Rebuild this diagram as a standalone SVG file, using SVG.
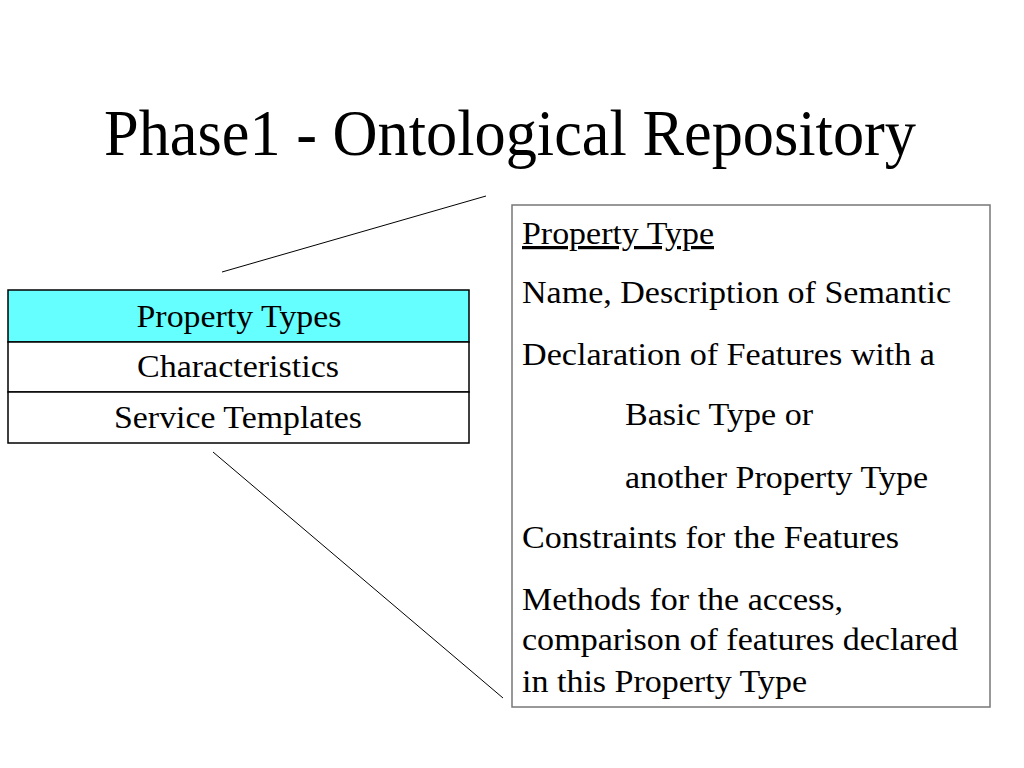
<svg xmlns="http://www.w3.org/2000/svg" width="1024" height="768" viewBox="0 0 1024 768">
<style>
text{font-family:"Liberation Serif","Times New Roman",serif;fill:#000}
.t{font-size:32px}
.c{text-anchor:middle}
.cell{stroke:#000;stroke-width:1.5}
.conn{stroke:#000;stroke-width:1;fill:none}
</style>
<rect width="1024" height="768" fill="#fff"/>
<text x="510" y="155" font-size="65" text-anchor="middle" textLength="812" lengthAdjust="spacingAndGlyphs">Phase1 - Ontological Repository</text>
<g id="connectors">
<line class="conn" x1="222" y1="272" x2="486" y2="196"/>
<line class="conn" x1="213" y1="452" x2="503" y2="698"/>
</g>
<g id="table">
<g id="row-property-types">
<rect class="cell" x="8" y="290" width="461" height="52" fill="#66FFFF"/>
<text class="t c" x="239" y="327" textLength="205" lengthAdjust="spacingAndGlyphs">Property Types</text>
</g>
<g id="row-characteristics">
<rect class="cell" x="8" y="342" width="461" height="50" fill="#fff"/>
<text class="t c" x="238" y="377" textLength="202" lengthAdjust="spacingAndGlyphs">Characteristics</text>
</g>
<g id="row-service-templates">
<rect class="cell" x="8" y="392" width="461" height="51" fill="#fff"/>
<text class="t c" x="238" y="428" textLength="248" lengthAdjust="spacingAndGlyphs">Service Templates</text>
</g>
</g>
<g id="detail-box">
<rect x="512" y="205" width="478" height="502" fill="#fff" stroke="#777" stroke-width="1.5"/>
<text class="t" x="522" y="244" textLength="192" lengthAdjust="spacingAndGlyphs" text-decoration="underline">Property Type</text>
<text class="t" x="522" y="303" textLength="429" lengthAdjust="spacingAndGlyphs">Name, Description of Semantic</text>
<text class="t" x="522" y="365" textLength="413" lengthAdjust="spacingAndGlyphs">Declaration of Features with a</text>
<text class="t" x="625" y="425" textLength="188" lengthAdjust="spacingAndGlyphs">Basic Type or</text>
<text class="t" x="625" y="488" textLength="303" lengthAdjust="spacingAndGlyphs">another Property Type</text>
<text class="t" x="522" y="548" textLength="377" lengthAdjust="spacingAndGlyphs">Constraints for the Features</text>
<text class="t" x="522" y="610" textLength="321" lengthAdjust="spacingAndGlyphs">Methods for the access,</text>
<text class="t" x="522" y="650" textLength="436" lengthAdjust="spacingAndGlyphs">comparison of features declared</text>
<text class="t" x="522" y="692" textLength="285" lengthAdjust="spacingAndGlyphs">in this Property Type</text>
</g>
</svg>
